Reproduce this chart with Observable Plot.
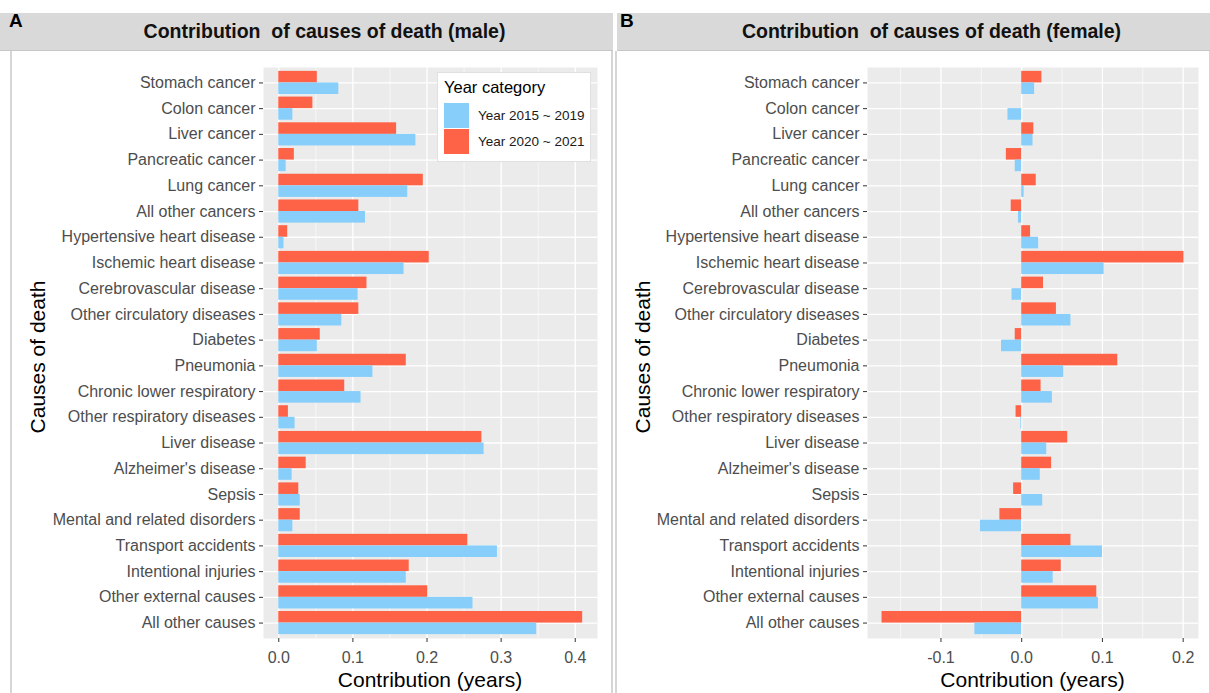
<!DOCTYPE html>
<html>
<head>
<meta charset="utf-8">
<script src="https://cdn.jsdelivr.net/npm/d3@7"></script>
<script src="https://cdn.jsdelivr.net/npm/@observablehq/plot@0.6"></script>
<style>
  body { margin: 0; background: #fff; font-family: "Liberation Sans", Arial, sans-serif; }
  #fig { position: relative; width: 1210px; height: 693px; overflow: hidden; }
  .strip { position: absolute; top: 13px; height: 37px; background: #d9d9d9; border-bottom: 1px solid #c6c6c6; }
  .strip .t { position: absolute; left: 36px; right: 0; top: 7px; text-align: center; font-weight: bold; font-size: 19.5px; color: #111; white-space: pre; }
  .tag { position: absolute; top: 10px; font-weight: bold; font-size: 19px; color: #000; }
  .body { position: absolute; top: 51px; height: 642px; border-left: 2px solid #d6d6d6; border-right: 2px solid #d6d6d6; box-sizing: border-box; }
  .ytitle { position: absolute; font-size: 21px; color: #000; transform: translate(-50%, -50%) rotate(-90deg); white-space: nowrap; }
  .xtitle { position: absolute; font-size: 21px; color: #000; transform: translate(-50%, -50%); white-space: nowrap; }
  .legend { position: absolute; background: #fff; border: 1px solid #e0e0e0; box-sizing: border-box; }
  .legend .lt { position: absolute; left: 6px; top: 5px; font-size: 16.5px; color: #000; }
  .legend .key { position: absolute; left: 6px; width: 25px; height: 25px; }
  .legend .kl { position: absolute; left: 40px; font-size: 13.5px; color: #1a1a1a; white-space: nowrap; }
</style>
</head>
<body>
<div id="fig"></div>
<script>
// Causes of death, top to bottom
const causes = [
  "Stomach cancer", "Colon cancer", "Liver cancer", "Pancreatic cancer", "Lung cancer",
  "All other cancers", "Hypertensive heart disease", "Ischemic heart disease",
  "Cerebrovascular disease", "Other circulatory diseases", "Diabetes", "Pneumonia",
  "Chronic lower respiratory", "Other respiratory diseases", "Liver disease",
  "Alzheimer's disease", "Sepsis", "Mental and related disorders", "Transport accidents",
  "Intentional injuries", "Other external causes", "All other causes"
];

const periods = ["Year 2015 ~ 2019", "Year 2020 ~ 2021"];
const periodColors = ["#87CEFA", "#FF6347"];

// Male contributions (years)
const male2015 = [0.081, 0.019, 0.185, 0.010, 0.174, 0.117, 0.007, 0.169, 0.107, 0.085, 0.052,
  0.127, 0.111, 0.022, 0.277, 0.018, 0.029, 0.019, 0.295, 0.172, 0.262, 0.348];
const male2020 = [0.052, 0.046, 0.159, 0.021, 0.195, 0.108, 0.012, 0.203, 0.119, 0.108, 0.056,
  0.172, 0.089, 0.013, 0.274, 0.037, 0.027, 0.029, 0.255, 0.176, 0.201, 0.410];

// Female contributions (years)
const female2015 = [0.016, -0.017, 0.014, -0.008, 0.003, -0.004, 0.021, 0.102, -0.012, 0.061, -0.025,
  0.052, 0.038, -0.001, 0.031, 0.023, 0.026, -0.051, 0.100, 0.039, 0.095, -0.058];
const female2020 = [0.025, 0, 0.015, -0.019, 0.018, -0.013, 0.011, 0.201, 0.027, 0.043, -0.008,
  0.119, 0.024, -0.007, 0.057, 0.037, -0.010, -0.027, 0.061, 0.049, 0.093, -0.173];

const maleTicks = [0, 0.1, 0.2, 0.3, 0.4];
const maleMinor = [0.05, 0.15, 0.25, 0.35];
const femaleTicks = [-0.1, 0, 0.1, 0.2];
const femaleMinor = [-0.15, -0.05, 0.05, 0.15];

const fig = document.getElementById("fig");

function el(cls, style, text, parent = fig) {
  const d = document.createElement("div");
  d.className = cls;
  Object.assign(d.style, style);
  if (text != null) d.textContent = text;
  parent.appendChild(d);
  return d;
}

function panel({left, width, tag, title, v2015, v2020, xDomain, ticks, minor, marginLeft, marginRight}) {
  el("body", {left: (left - 2) + "px", width: (width + 3) + "px"});
  const isA = tag === "A";
  const strip = el("strip", {left: (isA ? 0 : left) + "px", width: (isA ? width + 13 : width) + "px"});
  el("t", {}, title, strip);
  el("tag", {left: (isA ? 9 : left + 3) + "px"}, tag);

  const rows = causes.flatMap((c, i) => [
    {cause: c, period: periods[0], value: v2015[i]},
    {cause: c, period: periods[1], value: v2020[i]}
  ]);

  const height = 641, marginTop = 15, marginBottom = 55;
  const pi = 0.1, po = 0.15;
  const step = (height - marginTop - marginBottom) / (causes.length - pi + 2 * po);
  const half = step * (1 - pi) / 2;

  const chart = Plot.plot({
    width, height, marginLeft, marginRight, marginTop, marginBottom,
    style: {fontFamily: "'Liberation Sans', Arial, sans-serif", fontSize: "16px", color: "#4d4d4d", background: "transparent"},
    x: {domain: xDomain},
    y: {domain: causes, paddingInner: pi, paddingOuter: po, round: false},
    color: {domain: periods, range: periodColors},
    marks: [
      Plot.frame({fill: "#ebebeb", stroke: null}),
      Plot.gridX(minor, {stroke: "#fff", strokeOpacity: 1, strokeWidth: 0.6}),
      Plot.gridX(ticks, {stroke: "#fff", strokeOpacity: 1, strokeWidth: 1.3}),
      Plot.gridY({stroke: "#fff", strokeOpacity: 1, strokeWidth: 1.3}),
      Plot.barX(rows.filter(d => d.period === periods[1]), {x: "value", y: "cause", fill: "period", insetTop: 0, insetBottom: half}),
      Plot.barX(rows.filter(d => d.period === periods[0]), {x: "value", y: "cause", fill: "period", insetTop: half, insetBottom: 0}),
      Plot.axisX(ticks, {tickSize: 4, tickPadding: 9, tickFormat: d => d.toFixed(1), label: null, stroke: "#333", fill: "#4d4d4d", fontSize: 16}),
      Plot.axisY({tickSize: 4, tickPadding: 4, label: null, stroke: "#333", fill: "#4d4d4d", fontSize: 16})
    ]
  });
  chart.style.position = "absolute";
  chart.style.left = left + "px";
  chart.style.top = "52px";
  fig.appendChild(chart);

  const plotLeft = left + marginLeft, plotRight = left + width - marginRight;
  el("xtitle", {left: (plotLeft + plotRight) / 2 + "px", top: "680px"}, "Contribution (years)");
  el("ytitle", {left: (left + 26) + "px", top: "357px"}, "Causes of death");
  return chart;
}

panel({left: 12, width: 600, tag: "A", title: "Contribution  of causes of death (male)",
  v2015: male2015, v2020: male2020, xDomain: [-0.0206, 0.43], ticks: maleTicks, minor: maleMinor,
  marginLeft: 251, marginRight: 15});

panel({left: 617, width: 593, tag: "B", title: "Contribution  of causes of death (female)",
  v2015: female2015, v2020: female2020, xDomain: [-0.191, 0.219], ticks: femaleTicks, minor: femaleMinor,
  marginLeft: 250, marginRight: 12});

// Legend for the year categories
const legend = el("legend", {left: "437px", top: "72px", width: "154px", height: "90px"});
el("lt", {}, "Year category", legend);
periods.forEach((p, i) => {
  el("key", {top: (30 + i * 26) + "px", background: periodColors[i]}, null, legend);
  el("kl", {top: (35 + i * 26) + "px"}, p, legend);
});
</script>
</body>
</html>
